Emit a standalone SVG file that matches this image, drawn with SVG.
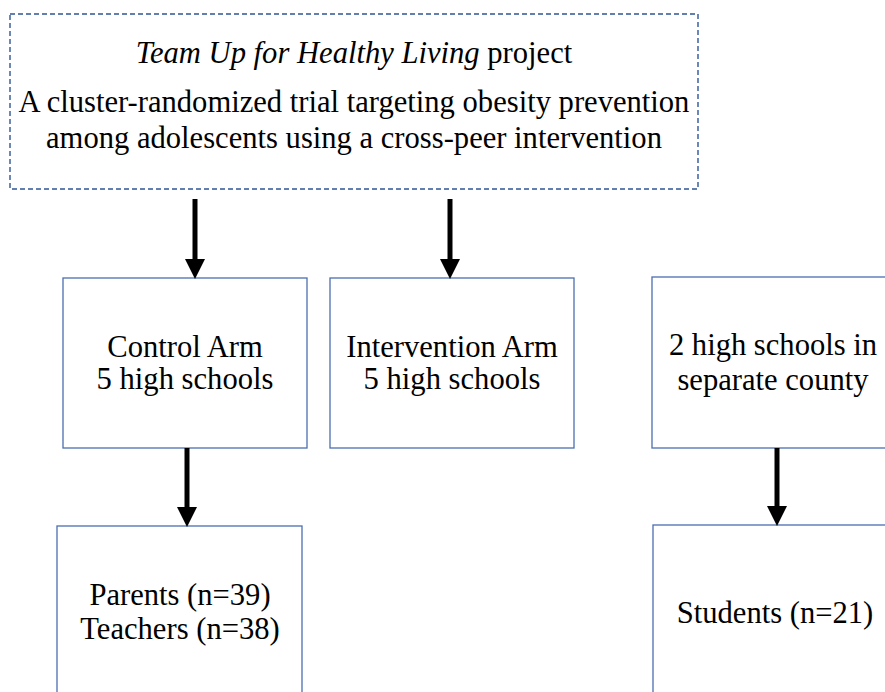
<svg xmlns="http://www.w3.org/2000/svg" width="885" height="692" viewBox="0 0 885 692">
<style>
.box{fill:#fff;stroke:#4a6fb0;stroke-width:1.3}
.dash{fill:#fff;stroke:#2f5597;stroke-width:1.4;stroke-dasharray:5,3}
.t{font-family:"Liberation Serif","Times New Roman",serif;font-size:30.6px;fill:#000;text-anchor:middle}
.c{stroke:#000;stroke-width:5;fill:none}
</style>
<defs>
<marker id="ah" markerWidth="4" markerHeight="4" refX="0" refY="2" orient="auto" markerUnits="strokeWidth" viewBox="0 0 4 4">
<path d="M0,0 L4,2 L0,4 z" fill="#000"/>
</marker>
</defs>
<g id="top">
<rect class="dash" x="10" y="14" width="688" height="175"/>
<text class="t" x="354" y="63"><tspan font-style="italic">Team Up for Healthy Living</tspan> project</text>
<text class="t" x="354" y="112">A cluster-randomized trial targeting obesity prevention</text>
<text class="t" x="354" y="148">among adolescents using a cross-peer intervention</text>
</g>
<g id="control">
<rect class="box" x="63" y="278" width="244" height="170"/>
<text class="t" x="185" y="357">Control Arm</text>
<text class="t" x="185" y="389">5 high schools</text>
</g>
<g id="intervention">
<rect class="box" x="330" y="278" width="244" height="170"/>
<text class="t" x="452" y="357">Intervention Arm</text>
<text class="t" x="452" y="389">5 high schools</text>
</g>
<g id="separate">
<rect class="box" x="652" y="277" width="250" height="171"/>
<text class="t" x="773" y="355">2 high schools in</text>
<text class="t" x="773" y="390">separate county</text>
</g>
<g id="parents">
<rect class="box" x="57" y="526" width="245" height="200"/>
<text class="t" x="180" y="605">Parents (n=39)</text>
<text class="t" x="180" y="639">Teachers (n=38)</text>
</g>
<g id="students">
<rect class="box" x="653" y="525" width="250" height="200"/>
<text class="t" x="775" y="623">Students (n=21)</text>
</g>
<g id="connectors">
<line class="c" x1="195" y1="199" x2="195" y2="259" marker-end="url(#ah)"/>
<line class="c" x1="450" y1="199" x2="450" y2="259" marker-end="url(#ah)"/>
<line class="c" x1="187" y1="448" x2="187" y2="507" marker-end="url(#ah)"/>
<line class="c" x1="777" y1="448" x2="777" y2="506" marker-end="url(#ah)"/>
</g>
</svg>
